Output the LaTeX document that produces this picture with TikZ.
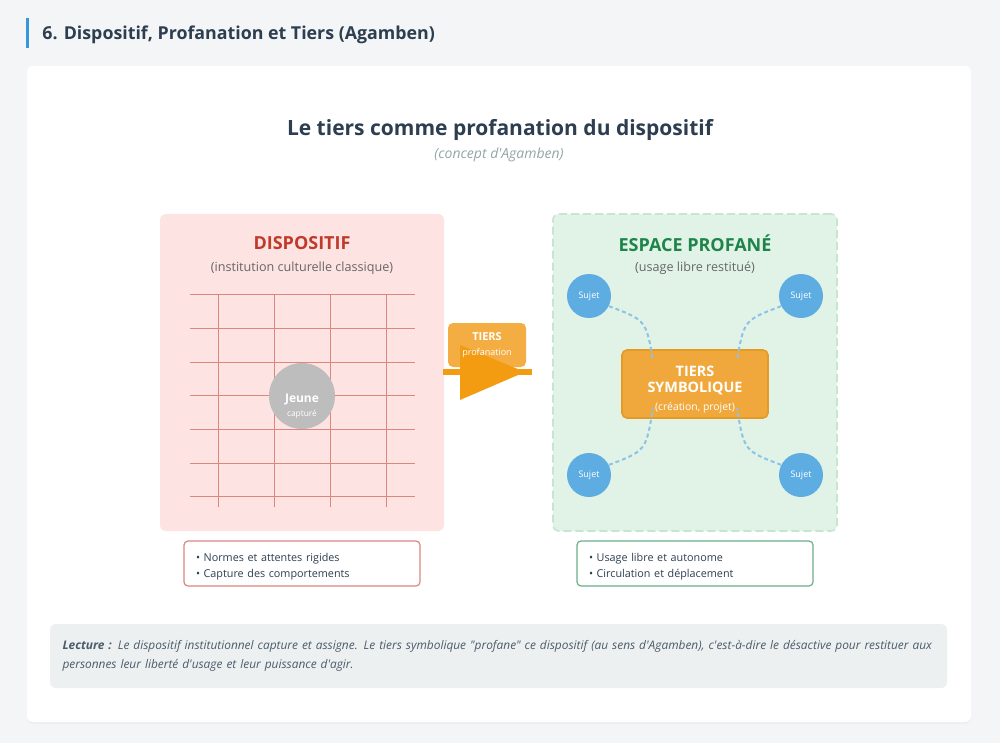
\documentclass[tikz,border=0pt]{standalone}
\usepackage{fontspec}
\setmainfont{Open Sans}[Ligatures=TeXOff]
\usepackage{xcolor}
\usepackage{tikz}
\usetikzlibrary{positioning,calc,shadows}

\definecolor{fond}{HTML}{F4F5F6}
\definecolor{encre}{HTML}{2C3E50}
\definecolor{grisclair}{HTML}{95A5A6}
\definecolor{grismoyen}{HTML}{666666}
\definecolor{bleutitre}{HTML}{3498DB}
\definecolor{rougedispo}{HTML}{C0392B}
\definecolor{rosedispo}{HTML}{FDE3E1}
\definecolor{vertprofane}{HTML}{1E8449}
\definecolor{vertpale}{HTML}{E1F3E7}
\definecolor{vertbord}{HTML}{C6E6D1}
\definecolor{orangetiers}{HTML}{F39C12}
\definecolor{orangeclair}{HTML}{F4AD42}
\definecolor{orangeboite}{HTML}{F0A83C}
\definecolor{orangebord}{HTML}{E39B26}
\definecolor{bleusujet}{HTML}{5DADE2}
\definecolor{bleulien}{HTML}{8CC3E6}
\definecolor{fondlecture}{HTML}{ECF0F1}
\definecolor{grisjeune}{HTML}{BDBDBD}

\newcommand{\fs}[1]{\fontsize{#1}{1.2\dimexpr #1pt\relax}\selectfont}

\begin{document}
\begin{tikzpicture}[x=0.5pt,y=-0.5pt,
  zone/.style={rounded corners=3pt,minimum width=142pt,minimum height=158.5pt,inner sep=0pt},
  titre/.style={font=\bfseries\fs{10.5},text=encre,inner sep=0pt},
  soustitre/.style={font=\itshape\fs{7},text=grisclair,inner sep=0pt},
  entete/.style={font=\bfseries\fs{9},inner sep=0pt},
  glose/.style={font=\fs{6.3},text=grismoyen,inner sep=0pt},
  sujet/.style={circle,fill=bleusujet,minimum size=22pt,inner sep=0pt,text=white,font=\fs{4.5}},
  liste/.style={draw,rounded corners=2pt,fill=white,line width=0.6pt,minimum width=118pt,
    minimum height=22.5pt,text width=106pt,align=left,inner sep=0pt,font=\fs{5.4},text=encre},
  lien/.style={bleulien,line width=1pt,dash pattern=on 2pt off 1.5pt},
  grille/.style={rougedispo!55!rosedispo,line width=0.5pt}]

    % The background and card
	\fill[fond] (0,0) rectangle (1000,743);
	\useasboundingbox (0,0) rectangle (1000,743);
	\node [fill=white,rounded corners=3pt,minimum width=472pt,minimum height=328pt,
	  drop shadow={opacity=0.06,shadow xshift=0pt,shadow yshift=-1pt}] at (499,394) (carte) {};
	\fill[bleutitre] (25.5,18) rectangle (28.5,48);
	\node [titre,font=\bfseries\fs{8.9},anchor=west] at (42,35) (section) {6. Dispositif, Profanation et Tiers (Agamben)};

	% Title
	\node [titre] at (500,130) (titre) {Le tiers comme profanation du dispositif};
	\node [soustitre] at (499,155) (concept) {(concept d'Agamben)};

	% Left zone: the dispositif
	\node [zone,fill=rosedispo] at (302,372.5) (dispo) {};
	\node [entete,text=rougedispo] at (302,243) (dispoT) {DISPOSITIF};
	\node [glose] at (302,268) (dispoG) {(institution culturelle classique)};
	\foreach \y in {294,328,362,395.5,429,463,496}
	  \draw[grille] (190,\y) -- (415,\y);
	\foreach \x in {218,274,330,386}
	  \draw[grille] (\x,294) -- (\x,507);
	\node [circle,fill=grisjeune,minimum size=33pt,inner sep=0pt,text=white,align=center,font=\fs{4.2}]
	  at (302,396) (jeune) {\rule{0pt}{14.5pt}{\bfseries\fs{6}Jeune}\\[2pt]capturé};

	% Right zone: the espace profane
	\node [zone,fill=vertpale,draw=vertbord,line width=0.8pt,dash pattern=on 4pt off 2pt] at (695,372.5) (espace) {};
	\node [entete,text=vertprofane] at (695,243) (espaceT) {ESPACE PROFANÉ};
	\node [glose] at (695,268) (espaceG) {(usage libre restitué)};
	\node [sujet] at (589,296) (s1) {Sujet};
	\node [sujet] at (801,296) (s2) {Sujet};
	\node [sujet] at (589,475) (s3) {Sujet};
	\node [sujet] at (801,475) (s4) {Sujet};

	\node [fill=orangeboite,draw=orangebord,line width=0.8pt,rounded corners=2.5pt,
	  minimum width=73pt,minimum height=34pt,inner sep=0pt,text=white,align=center,font=\bfseries\fs{7.2}]
	  at (695,384) (ts) {\rule{0pt}{11pt}TIERS\\[-0.6pt]SYMBOLIQUE\\[0.4pt]{\mdseries\fs{5.2}(création, projet)}};
	\coordinate (tsA) at (653,360);
	\coordinate (tsB) at (737,360);
	\coordinate (tsC) at (653,408);
	\coordinate (tsD) at (737,408);

	% Links to the tiers
	\draw[lien] (s1.-27) .. controls +(37,14) .. (tsA);
	\draw[lien] (s2.-153) .. controls +(-37,14) .. (tsB);
	\draw[lien] (s3.27) .. controls +(37,-14) .. (tsC);
	\draw[lien] (s4.153) .. controls +(-37,-14) .. (tsD);

	% The tiers between both zones
	\node [fill=orangeclair,rounded corners=2.5pt,minimum width=39pt,minimum height=22pt,inner sep=0pt]
	  at (487,345) (tiers) {};
	\coordinate (flecheA) at (443,372);
	\coordinate (flecheB) at (532,372);
	\draw[orangetiers,line width=3pt] (flecheA) -- (flecheB);
	\fill[orangetiers] (460,345) -- (525,372) -- (460,400) -- cycle;
	\node [inner sep=0pt,text=white,align=center,font=\fs{4.5}] at (tiers.center) (tiersT)
	  {{\bfseries\fs{5.5}TIERS}\\[2.5pt]profanation};

	% Lists under the zones
	\node [liste,draw=rougedispo!60!white] at (302,563.5) (listeA)
	  {\rule{0pt}{7pt}• Normes et attentes rigides\\[1.6pt]• Capture des comportements};
	\node [liste,draw=vertprofane!65!white] at (695,563.5) (listeB)
	  {\rule{0pt}{7pt}• Usage libre et autonome\\[1.6pt]• Circulation et déplacement};

	% Reading note
	\node [fill=fondlecture,rounded corners=3pt,minimum width=448.5pt,minimum height=32pt,
	  text width=436pt,align=left,inner sep=0pt,font=\itshape\fs{5.95},text=encre!85!white]
	  at (498.5,656) (lecture) {\textbf{Lecture :} Le dispositif institutionnel capture et assigne. Le tiers symbolique "profane" ce dispositif (au sens d'Agamben), c'est-à-dire le désactive pour restituer aux\\[2pt]personnes leur liberté d'usage et leur puissance d'agir.};

\end{tikzpicture}
\end{document}
